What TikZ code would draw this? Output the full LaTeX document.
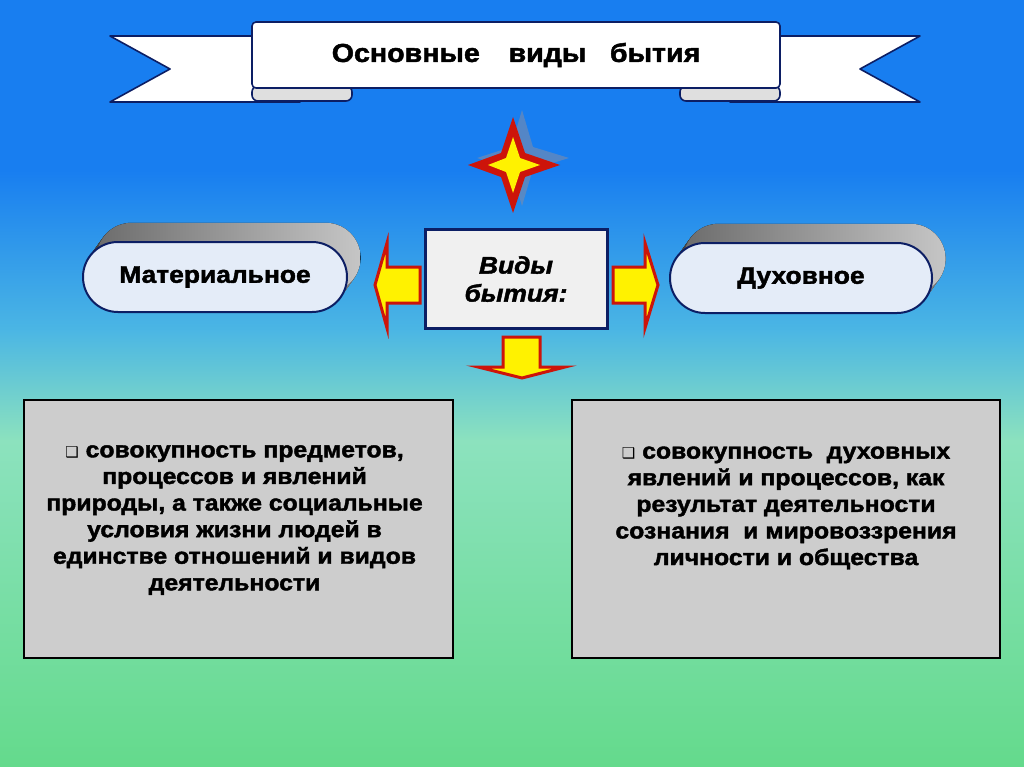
\documentclass[tikz,border=0pt]{standalone}
\usepackage{fontspec}
\setmainfont{Liberation Sans}
\newfontfamily\heavyfont[UprightFont={* Bold}, ItalicFont={* Bold Italic},
  FakeBold=1.8, FakeStretch=1.1]{Liberation Sans}
\newfontfamily\symfont{DejaVu Sans}
\usetikzlibrary{positioning}

\definecolor{bgblue}{RGB}{24,126,240}
\definecolor{bgsky}{RGB}{75,182,228}
\definecolor{bgaqua}{RGB}{140,226,190}
\definecolor{bggreen}{RGB}{100,218,140}
\definecolor{navy}{RGB}{12,30,100}
\definecolor{starred}{RGB}{205,20,10}
\definecolor{staryel}{RGB}{255,242,0}
\definecolor{starshade}{RGB}{125,140,170}
\definecolor{boxgray}{RGB}{205,205,205}
\definecolor{pillfill}{RGB}{228,236,248}

\tikzset{
  ribbon/.style={fill=white, draw=navy, line width=1.6pt, line join=round},
  pill/.style={draw=navy, line width=2pt, fill=pillfill, rounded corners=34.9pt,
    minimum height=70pt, font=\heavyfont\fontsize{24}{26}\selectfont},
  vidbox/.style={draw=navy, line width=3pt, fill=gray!12, minimum width=182pt,
    minimum height=98pt, align=center, font=\heavyfont\itshape\fontsize{24}{28}\selectfont},
  descbox/.style={draw=black, line width=2.5pt, fill=boxgray, minimum width=429pt,
    minimum height=258pt},
  desctext/.style={align=center, font=\heavyfont\fontsize{22.5}{26.6}\selectfont},
  blockarrow/.style={fill=staryel, draw=starred, line width=3pt, line join=miter}
}
\newcommand{\sqbullet}{{\symfont\fontsize{15}{15}\selectfont ❑}}

\begin{document}
\begin{tikzpicture}[x=1pt,y=-1pt]
  \useasboundingbox (0,0) rectangle (1024,767);
  % background
  \fill[bgblue] (0,0) rectangle (1024,171);
  \fill[top color=bgblue, bottom color=bgsky] (0,170) rectangle (1024,331);
  \fill[top color=bgsky, bottom color=bgaqua] (0,330) rectangle (1024,441);
  \fill[top color=bgaqua, bottom color=bggreen] (0,440) rectangle (1024,767);

  % banner
  \draw[ribbon] (110,36) -- (300,36) -- (300,102) -- (110,102) -- (170,69) -- cycle;
  \draw[ribbon] (920,36) -- (730,36) -- (730,102) -- (920,102) -- (860,69) -- cycle;
  \draw[ribbon, fill=gray!25, rounded corners=6pt] (252,86) rectangle (352,101);
  \draw[ribbon, fill=gray!25, rounded corners=6pt] (680,86) rectangle (780,101);
  \draw[ribbon, rounded corners=4pt] (252,22) rectangle (780,88);
  \node[font=\heavyfont\fontsize{26}{28}\selectfont] (title) at (516,55)
    {Основные\hspace{0.8em} виды\hspace{0.6em} бытия};

  % star
  \fill[starshade, opacity=0.6, shift={(9,-7)}]
    (513,117) -- (524,154) -- (560,165) -- (524,176) -- (513,213)
    -- (502,176) -- (468,165) -- (502,154) -- cycle;
  \fill[starred] (513,117) -- (525,153) -- (560,165) -- (525,177) -- (513,213)
    -- (501,177) -- (468,165) -- (501,153) -- cycle;
  \fill[staryel] (513,137) -- (520,158) -- (540,165) -- (520,172) -- (513,193)
    -- (506,172) -- (488,165) -- (506,158) -- cycle;

  % pills with depth
  \foreach \k in {1,...,16} {
    \fill[left color=gray!85!black, right color=gray!45, rounded corners=34.9pt,
      shift={(\k*0.85,-\k*1.2)}] (83,242) rectangle (347,312);
    \fill[left color=gray!85!black, right color=gray!45, rounded corners=34.9pt,
      shift={(\k*0.85,-\k*1.2)}] (670,243) rectangle (932,313);
  }
  \node[pill, minimum width=264pt] (mat) at (215,277) {Материальное};
  \node[pill, minimum width=262pt] (duh) at (801,278) {Духовное};

  % centre
  \node[vidbox] (vid) at (516,279) {Виды\\бытия:};
  \draw[blockarrow] (420,267) -- (387,267) -- (387,243) -- (375,285)
    -- (387,328) -- (387,303) -- (420,303) -- cycle;
  \draw[blockarrow] (613,267) -- (645,267) -- (645,243) -- (658,285)
    -- (645,328) -- (645,303) -- (613,303) -- cycle;
  \draw[blockarrow] (503,337) -- (540,337) -- (540,367) -- (565,367)
    -- (522,378) -- (478,367) -- (503,367) -- cycle;

  % descriptions
  \node[descbox] (matbox) at (238.5,529) {};
  \node[descbox, minimum width=428pt] (duhbox) at (786,529) {};
  \node[desctext] (mattext) at ([xshift=-4pt,yshift=9pt]matbox.center)
    {\sqbullet{} совокупность предметов,\\процессов и явлений\\
     природы, а также социальные\\условия жизни людей в\\
     единстве отношений и видов\\деятельности};
  \node[desctext] (duhtext) at ([yshift=21pt]duhbox.center)
    {\sqbullet{} совокупность\hspace{0.3em} духовных\\явлений и процессов, как\\
     результат деятельности\\сознания\hspace{0.3em} и мировоззрения\\
     личности и общества};
\end{tikzpicture}
\end{document}
